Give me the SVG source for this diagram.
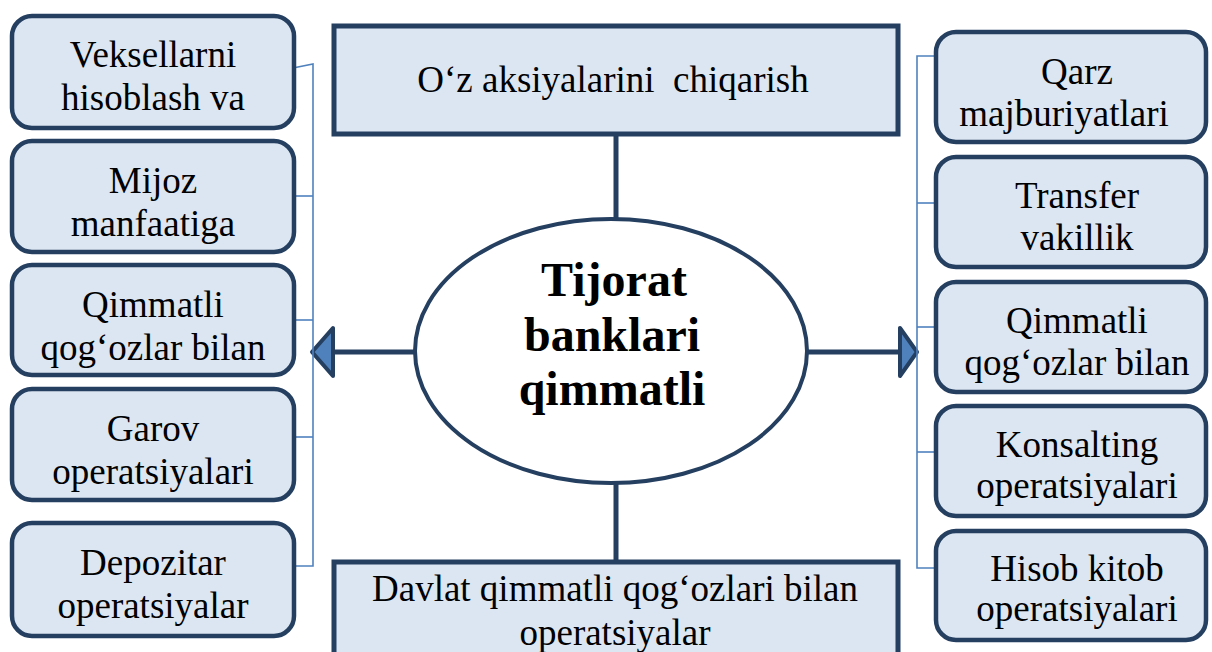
<svg xmlns="http://www.w3.org/2000/svg" width="1212" height="652" viewBox="0 0 1212 652">
<style>
.box{fill:#DCE6F2;stroke:#243F60;stroke-width:4.5}
.rect{fill:#DCE6F2;stroke:#243F60;stroke-width:5}
.t{font-family:"Liberation Serif","Times New Roman",serif;font-size:37px;fill:#000;text-anchor:middle;white-space:pre}
.c{font-family:"Liberation Serif","Times New Roman",serif;font-size:48px;font-weight:bold;fill:#000;text-anchor:middle}
.thick{stroke:#243F60;stroke-width:5;fill:none}
.thin{stroke:#4F81BD;stroke-width:1.6;fill:none}
.arr{fill:#4F81BD;stroke:#243F60;stroke-width:4;stroke-linejoin:round}
</style>
<rect width="1212" height="652" fill="#fff"/>
<g id="connectors">
<line class="thick" x1="616" y1="134" x2="616" y2="220"/>
<line class="thick" x1="616" y1="482" x2="616" y2="562"/>
<line class="thick" x1="332" y1="352" x2="425" y2="352"/>
<line class="thick" x1="806" y1="352" x2="900" y2="352"/>
<polygon class="arr" points="312,352 333,328 333,376"/>
<polygon class="arr" points="917,352 900,328 900,376"/>
<polyline class="thin" points="288,69 313,64 313,566 294,566"/>
<line class="thin" x1="294" y1="196" x2="313" y2="196"/>
<line class="thin" x1="294" y1="320" x2="313" y2="320"/>
<line class="thin" x1="294" y1="437" x2="313" y2="437"/>
<polyline class="thin" points="936,56 917,56 917,568 936,568"/>
<line class="thin" x1="917" y1="203" x2="936" y2="203"/>
<line class="thin" x1="917" y1="327" x2="936" y2="327"/>
<line class="thin" x1="917" y1="452" x2="936" y2="452"/>
</g>
<g id="center">
<ellipse cx="611" cy="351" rx="196" ry="132" fill="#fff" stroke="#243F60" stroke-width="4"/>
<text class="c" x="614" y="296">Tijorat</text>
<text class="c" x="612" y="351">banklari</text>
<text class="c" x="612" y="405">qimmatli</text>
</g>
<g id="top">
<rect class="rect" x="334" y="26" width="564" height="108"/>
<text class="t" x="613" y="92" xml:space="preserve">O‘z aksiyalarini  chiqarish</text>
</g>
<g id="bottom">
<rect class="rect" x="334" y="562" width="564" height="110"/>
<text class="t" x="615" y="601">Davlat qimmatli qog‘ozlari bilan</text>
<text class="t" x="615" y="645">operatsiyalar</text>
</g>
<g id="l1"><rect class="box" x="12" y="16" width="282" height="112" rx="20"/>
<text class="t" x="153" y="67">Veksellarni</text><text class="t" x="153" y="110">hisoblash va</text></g>
<g id="l2"><rect class="box" x="12" y="141" width="282" height="111" rx="20"/>
<text class="t" x="153" y="193">Mijoz</text><text class="t" x="153" y="236">manfaatiga</text></g>
<g id="l3"><rect class="box" x="12" y="265" width="282" height="110" rx="20"/>
<text class="t" x="153" y="317">Qimmatli</text><text class="t" x="153" y="360">qog‘ozlar bilan</text></g>
<g id="l4"><rect class="box" x="12" y="389" width="282" height="111" rx="20"/>
<text class="t" x="153" y="441">Garov</text><text class="t" x="153" y="484">operatsiyalari</text></g>
<g id="l5"><rect class="box" x="12" y="523" width="282" height="113" rx="20"/>
<text class="t" x="153" y="575">Depozitar</text><text class="t" x="153" y="618">operatsiyalar</text></g>
<g id="r1"><rect class="box" x="936" y="32" width="270" height="110" rx="20"/>
<text class="t" x="1077" y="84">Qarz</text><text class="t" x="1064" y="126">majburiyatlari</text></g>
<g id="r2"><rect class="box" x="936" y="157" width="270" height="110" rx="20"/>
<text class="t" x="1077" y="208">Transfer</text><text class="t" x="1077" y="250">vakillik</text></g>
<g id="r3"><rect class="box" x="936" y="282" width="270" height="110" rx="20"/>
<text class="t" x="1077" y="333">Qimmatli</text><text class="t" x="1077" y="375">qog‘ozlar bilan</text></g>
<g id="r4"><rect class="box" x="936" y="406" width="270" height="110" rx="20"/>
<text class="t" x="1077" y="457">Konsalting</text><text class="t" x="1077" y="498">operatsiyalari</text></g>
<g id="r5"><rect class="box" x="936" y="531" width="270" height="109" rx="20"/>
<text class="t" x="1077" y="581">Hisob kitob</text><text class="t" x="1077" y="621">operatsiyalari</text></g>
</svg>
